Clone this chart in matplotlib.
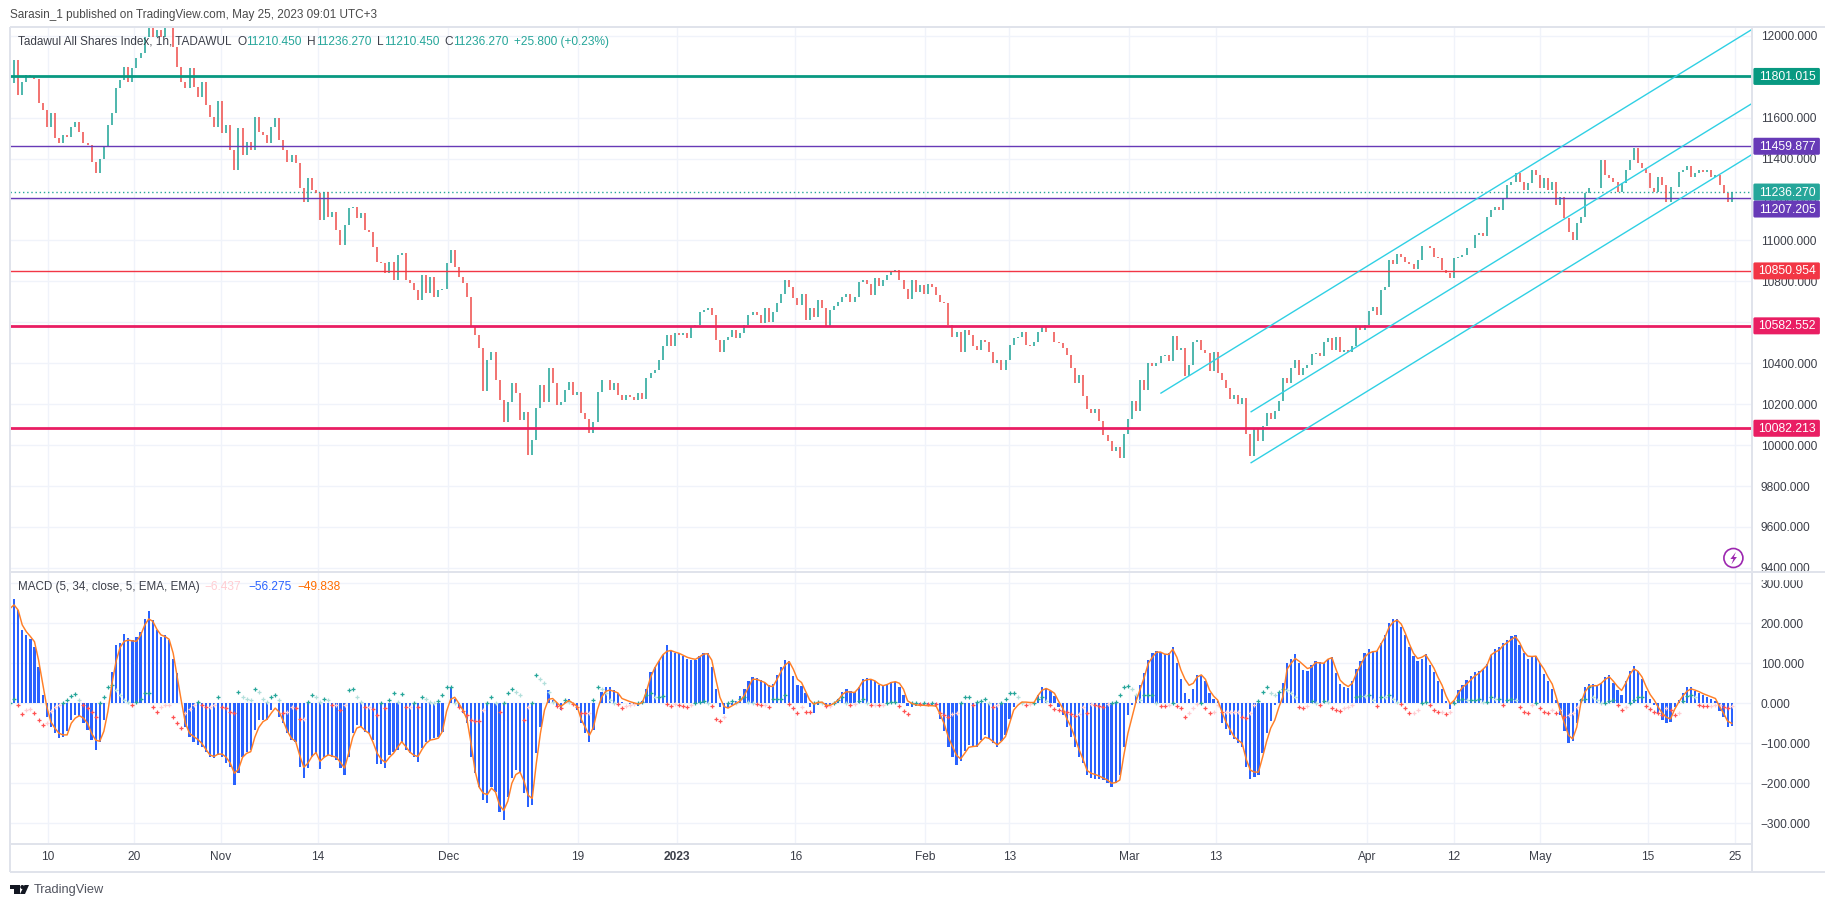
import matplotlib
matplotlib.use("Agg")
import matplotlib.pyplot as plt
from matplotlib.patches import Rectangle, FancyBboxPatch, Polygon, Circle

plt.rcParams["font.family"] = ["Liberation Sans", "DejaVu Sans"]

closes = [
11767,11880,11710,11775,11808,11796,11787,11670,11637,11555,
11620,11498,11474,11515,11507,11555,11580,11531,11474,11466,
11384,11327,11400,11458,11563,11620,11743,11783,11849,11775,
11840,11889,11914,11995,12036,11995,12028,11995,12036,12036,
11946,11849,11775,11743,11840,11751,11702,11775,11661,11604,
11555,11680,11523,11563,11441,11344,11547,11417,11482,11441,
11604,11531,11515,11474,11555,11596,11490,11441,11384,11417,
11376,11254,11189,11303,11246,11230,11099,11238,11116,11140,
11050,10977,11075,11156,11165,11107,11132,11050,11042,10969,
10896,10888,10839,10896,10806,10928,10936,10806,10790,10757,
10708,10831,10741,10822,10725,10758,10765,10888,10953,10872,
10823,10790,10725,10579,10538,10473,10266,10416,10457,10318,
10220,10115,10212,10302,10253,10123,10164,9952,10025,10180,
10294,10212,10375,10302,10196,10212,10269,10310,10245,10261,
10155,10126,10058,10115,10261,10318,10318,10269,10302,10245,
10220,10245,10237,10220,10253,10223,10328,10352,10368,10417,
10482,10538,10482,10546,10538,10546,10522,10579,10587,10652,
10660,10668,10635,10514,10457,10514,10530,10563,10522,10546,
10587,10635,10652,10635,10595,10668,10603,10652,10692,10740,
10805,10773,10721,10684,10740,10611,10668,10627,10708,10668,
10582,10660,10679,10700,10724,10740,10700,10724,10797,10805,
10789,10732,10818,10776,10805,10830,10846,10854,10805,10765,
10716,10805,10749,10781,10740,10789,10773,10732,10700,10692,
10587,10530,10554,10457,10563,10538,10482,10465,10514,10506,
10457,10401,10417,10368,10417,10490,10522,10530,10554,10490,
10482,10506,10554,10582,10554,10554,10506,10501,10473,10441,
10376,10304,10344,10239,10177,10158,10174,10118,10048,10021,
9972,9993,9935,10053,10126,10215,10166,10320,10271,10401,
10385,10401,10433,10441,10409,10533,10465,10473,10336,10393,
10506,10514,10465,10449,10360,10457,10352,10320,10279,10223,
10247,10199,10231,10053,9948,10077,10021,10093,10158,10126,
10166,10215,10328,10304,10377,10417,10344,10377,10393,10444,
10449,10433,10506,10522,10465,10527,10457,10465,10457,10482,
10576,10563,10587,10656,10676,10634,10760,10773,10902,10886,
10935,10918,10894,10886,10862,10902,10975,10975,10961,
10920,10912,10855,10839,10814,10912,10920,10928,10961,10961,
11026,11034,11023,11116,11148,11161,11148,11205,11270,11287,
11327,11287,11246,11279,11344,11319,11254,11303,11246,11287,
11173,11213,11107,11042,11002,11083,11116,11230,11254,11254,
11254,11393,11319,11303,11287,11238,11279,11344,11393,
11450,11376,11352,11327,11254,11238,11311,11270,11189,11262,
11262,11335,11344,11365,11311,11327,11344,11335,11344,11311,
11319,11270,11230,11189,11236]

macd = [
248,260,233,183,170,162,142,92,20,-33,
-58,-75,-87,-85,-70,-42,-29,-32,-50,-67,
-92,-117,-96,-42,0,79,146,150,173,163,
158,165,179,212,232,208,183,165,171,158,
112,75,0,-58,-83,-96,-104,-108,-121,-133,
-137,-129,-133,-150,-158,-205,-175,-133,-121,-117,
-67,-42,-42,-42,-17,0,-33,-50,-75,-92,
-96,-158,-187,-162,-133,-123,-165,-133,-129,-133,
-142,-162,-179,-133,-75,-54,-58,-71,-75,-92,
-152,-152,-162,-129,-121,-117,-96,-117,-125,-133,
-146,-112,-96,-92,-87,-83,-71,0,42,12,
-8,-25,-50,-133,-175,-208,-242,-250,-208,-221,
-271,-292,-233,-187,-167,-175,-225,-260,-254,-125,
-60,0,33,8,-8,-17,4,12,0,-17,
-50,-75,-96,-67,0,29,42,40,33,25,
4,2,-2,-5,-7,5,35,78,90,105,
121,146,130,127,125,118,110,108,108,118,
125,125,90,35,-8,-27,-12,-4,5,19,
35,55,65,64,58,50,47,48,70,90,
108,105,68,45,44,25,-8,-25,-4,2,
-10,-5,2,12,28,36,31,28,42,60,
64,62,56,47,44,48,54,54,40,20,
-6,-10,-7,-6,-4,-5,-7,-10,-38,-68,
-108,-135,-155,-145,-120,-105,-108,-108,-92,-80,
-88,-99,-108,-95,-80,-40,-8,0,4,2,
1,0,22,40,38,30,18,-8,-30,-60,
-85,-108,-135,-150,-178,-186,-188,-190,-192,-198,
-208,-198,-180,-110,-28,-5,20,45,75,108,
125,132,128,123,125,140,100,62,25,12,
35,72,68,56,25,10,6,-50,-65,-80,
-90,-100,-110,-160,-190,-185,-180,-125,-75,-45,
-5,28,52,100,112,123,100,83,82,95,
105,103,100,110,115,75,48,42,38,
55,85,105,125,137,130,130,150,172,200,
210,212,192,170,140,118,106,112,123,95,
78,55,35,5,-15,5,33,45,58,68,
78,82,87,98,121,135,140,150,158,168,
172,145,125,112,116,118,100,74,55,36,
8,-30,-70,-98,-95,-48,10,42,48,
48,44,52,65,70,50,34,20,55,80,
94,80,60,30,10,-5,-25,-42,-48,-46,
-10,8,25,40,42,30,25,22,17,12,
5,-20,-35,-60,-56]

signal = [
237,246,233,196,179,167,154,108,50,-8,
-46,-62,-75,-79,-79,-50,-37,-31,-37,-50,
-75,-92,-95,-70,-20,50,105,140,155,158,
156,155,170,195,211,205,185,171,167,160,
125,65,5,-50,-75,-83,-90,-100,-115,-129,
-133,-127,-127,-135,-150,-175,-165,-135,-125,-121,
-85,-60,-46,-40,-25,-12,-22,-45,-70,-88,
-95,-130,-160,-150,-133,-123,-145,-135,-129,-132,
-135,-148,-162,-125,-85,-62,-58,-68,-75,-98,
-125,-140,-148,-135,-125,-110,-96,-108,-122,-130,
-133,-115,-100,-92,-90,-87,-70,-20,10,15,
0,-17,-40,-100,-170,-210,-225,-228,-212,-222,
-255,-268,-245,-200,-178,-172,-195,-230,-238,-150,
-75,-17,10,12,2,-8,0,7,0,-8,
-40,-60,-80,-60,-15,15,30,33,30,26,
12,8,4,1,-2,2,30,65,88,105,
121,130,132,128,125,120,115,112,110,116,
123,124,108,60,15,-8,-12,-6,0,6,
20,40,60,60,56,52,43,42,60,80,
96,104,85,60,52,30,8,-2,2,3,
-5,-5,0,8,22,29,28,27,38,55,
59,60,56,48,44,47,52,54,50,35,
6,0,-4,-5,-5,-6,-6,-7,-28,-52,
-85,-108,-130,-139,-125,-110,-108,-107,-95,-85,
-88,-96,-104,-95,-83,-50,-17,-5,3,3,
2,2,20,33,37,32,25,5,-12,-38,
-58,-85,-115,-140,-168,-175,-178,-182,-187,-192,
-200,-198,-192,-130,-75,-35,5,35,65,100,
115,128,128,123,122,135,115,83,60,45,
50,66,71,60,33,18,8,-20,-46,-65,
-83,-92,-100,-140,-167,-172,-172,-135,-95,-62,
-42,-10,17,85,100,112,105,96,87,90,
102,101,100,110,114,85,58,48,42,
50,75,95,115,125,129,130,148,165,190,
203,208,198,175,148,125,112,115,121,105,
88,65,45,18,-2,8,25,40,48,58,
68,75,85,95,121,128,133,145,152,160,
166,152,130,118,117,118,100,85,65,48,
15,-20,-50,-80,-89,-60,0,28,42,
44,44,50,60,66,55,42,32,50,72,
86,80,66,42,22,8,-10,-25,-35,-39,
-15,3,18,30,36,33,29,24,20,16,
12,-8,-25,-45,-50]

hist = [
0,12,-3,-27,-17,-14,-25,-42,-54,-48,
-20,-10,-3,0,8,18,23,8,-4,-12,
-21,-33,2,17,42,46,33,21,8,4,
-4,4,12,25,27,-8,-21,-10,-4,-3,
-33,-50,-62,-25,-15,-4,4,-4,-8,-8,
-4,17,-8,-12,-21,-25,29,17,12,8,
37,29,12,4,17,21,8,-25,-21,-8,
-12,-38,-38,4,22,17,4,12,8,-4,
-4,-17,-4,33,35,17,4,-8,-8,-15,
-29,0,-12,8,25,4,23,-8,-8,0,
-8,17,12,4,2,7,21,40,42,0,
-8,-18,-29,-42,-43,-44,-17,2,17,0,
-21,0,27,37,29,21,-42,-8,2,71,
60,50,29,4,-6,-12,8,4,-2,-8,
-23,-25,-25,8,40,37,25,8,2,-2,
-12,-7,-5,-2,0,4,21,27,15,15,
19,-2,-7,-2,-5,-7,-8,-5,2,4,
7,0,-7,-40,-45,-33,0,7,2,10,
17,4,0,-2,-4,-3,-8,10,12,12,
21,-2,-12,-23,-10,-21,-22,0,4,0,
-7,-7,2,8,15,0,-4,-2,7,12,
0,-5,-4,-5,-5,0,4,4,-7,-18,
-27,0,2,-2,2,-2,2,-2,-23,-29,
-35,-27,-23,0,15,15,-4,4,7,12,
2,-8,-4,2,12,25,27,17,2,-4,
-2,2,10,17,7,-5,-15,-17,-18,-21,
-27,-32,-27,-8,-25,-2,-5,-7,-8,-2,
0,3,21,42,43,37,21,8,21,21,
21,0,-6,-7,-5,0,-7,-12,-35,-25,
-12,-2,0,-12,-25,-21,-4,-21,-21,-21,
-21,-21,-33,-37,-25,-4,7,29,42,25,
22,29,37,33,27,17,-8,-12,-7,7,
0,-4,7,4,-12,-17,-18,-12,-8,-4,
17,19,18,21,8,-7,17,15,21,10,
4,-2,-12,-25,-25,-17,0,4,-4,-17,
-21,-21,-27,-21,0,8,10,8,8,8,
12,4,4,17,11,12,-4,8,10,8,
-8,-21,-25,-4,2,-12,-21,-23,-17,-25,
-17,-33,-29,-25,-8,8,12,40,17,8,
0,0,7,8,-4,-17,-8,0,8,17,
17,-7,-15,-21,-25,-29,-12,-17,-29,-25,
6,18,21,17,-4,-6,-7,-6,-4,-4,
-8,-12,-6]

time_labels = ["10", "20", "Nov", "14", "Dec", "19", "2023", "16", "Feb", "13", "Mar", "13", "Apr", "12", "May", "15", "25"]
time_bars = [9.3, 30.5, 51.7, 75.5, 107.4, 139.2, 163.4, 192.5, 224.3, 244.9, 274.3, 295.5, 332.7, 353.8, 375.1, 401.5, 422.8]

price_ticks = [12000, 11800, 11600, 11400, 11200, 11000, 10800, 10600, 10400, 10200, 10000, 9800, 9600, 9400]
macd_ticks = [300, 200, 100, 0, -100, -200, -300]

level_values = [11801.015, 11459.877, 11207.205, 10850.954, 10582.552, 10082.213]
level_colors = ["#089981", "#673ab7", "#673ab7", "#f23645", "#e91e63", "#e91e63"]
level_widths = [2.0, 1.0, 1.0, 1.0, 2.0, 2.0]
last_close = 11236.270

channel_start_bar = [282.1, 304.2, 304.2]
channel_start_val = [10254, 10163, 9914]
channel_end_bar = [427.06, 427.06, 427.06]
channel_end_val = [12032, 11670, 11421]

UP = "#26a69a"
DOWN = "#ef5350"
GRID = "#f0f3fa"
FRAME = "#e0e3eb"
TEXT = "#3c3f49"
W, H = 1834, 907
AXIS_X = 1752.4


def box(left, top, right, bottom):
    return [left / W, 1 - bottom / H, (right - left) / W, (bottom - top) / H]


fig = plt.figure(figsize=(W / 100, H / 100), dpi=100, facecolor="white")
ax = fig.add_axes(box(10, 27, AXIS_X, 571.5))
ax2 = fig.add_axes(box(10, 571.5, AXIS_X, 844))
bars = list(range(len(closes)))

# candles, open is taken as the previous close
opens = [closes[0]] + closes[:-1]
cols = [UP if c >= o else DOWN for o, c in zip(opens, closes)]
ax.vlines(bars, opens, closes, colors=cols, linewidth=1.15, zorder=3)
ax.set_xlim(0, 427.06)
ax.set_ylim(9382.5, 12042.5)

for val, col, lw in zip(level_values, level_colors, level_widths):
    ax.axhline(val, color=col, linewidth=lw, zorder=4)
ax.axhline(last_close, color=UP, linewidth=1, linestyle=(0, (1, 2)), zorder=2)
for x0, y0, x1, y1 in zip(channel_start_bar, channel_start_val, channel_end_bar, channel_end_val):
    ax.plot([x0, x1], [y0, y1], color="#2fd0e4", linewidth=1.0, zorder=5)

# macd panel
ax2.bar(bars, macd, width=0.55, color="#2962ff", zorder=2)
ax2.plot(bars, signal, color="#ff7f27", linewidth=1.05, zorder=4)
for i in bars:
    prev = hist[i - 1] if i else hist[i]
    if hist[i] >= 0:
        c = "#26a69a" if hist[i] >= prev else "#b2dfdb"
    else:
        c = "#ff5252" if hist[i] < prev else "#ffcdd2"
    ax2.plot(bars[i], hist[i], marker="+", markersize=3.2, markeredgewidth=0.9, color=c, linestyle="none", zorder=3)
ax2.set_xlim(0, 427.06)
ax2.set_ylim(-351.75, 329.5)

for a, ticks in ((ax, price_ticks), (ax2, macd_ticks)):
    a.set_yticks(ticks)
    a.yaxis.tick_right()
    a.set_yticklabels([f"{t:.3f}".replace("-", "\u2212") for t in ticks])
    a.set_xticks(time_bars)
    a.grid(True, color=GRID, linewidth=1, zorder=0)
    a.set_axisbelow(True)
    a.tick_params(axis="y", length=0, pad=6, labelsize=8.6, labelcolor=TEXT)
    a.tick_params(axis="x", length=0)
    for s in a.spines.values():
        s.set_visible(False)
ax.set_xticklabels([])
ax2.set_xticklabels(time_labels)
ax2.tick_params(axis="x", pad=5, labelsize=8.6, labelcolor=TEXT)
ax2.get_xticklabels()[6].set_fontweight("bold")

# overlay in pixels for frame, labels, header and logo
ov = fig.add_axes([0, 0, 1, 1], facecolor="none")
ov.set_xlim(0, W)
ov.set_ylim(H, 0)
ov.axis("off")

ov.add_patch(Rectangle((AXIS_X + 1, 572), 72, 7, color="white", zorder=1))
for xs, ys in (([10, 1825], [27, 27]), ([10, 1825], [872, 872]), ([10, 10], [27, 872]),
               ([AXIS_X, AXIS_X], [27, 872]), ([10, 1825], [571.5, 571.5]), ([10, AXIS_X], [844, 844])):
    ov.plot(xs, ys, color=FRAME, linewidth=1.4, zorder=2, solid_capstyle="butt")


def price_px(v):
    return H - ax.transData.transform((0, v))[1]


labels = [("11801.015", "#089981", price_px(11801.015)),
          ("11459.877", "#673ab7", price_px(11459.877)),
          ("11236.270", "#26a69a", price_px(last_close)),
          ("11207.205", "#673ab7", price_px(last_close) + 17),
          ("10850.954", "#f23645", price_px(10850.954)),
          ("10582.552", "#e91e63", price_px(10582.552)),
          ("10082.213", "#e91e63", price_px(10082.213))]
for txt, col, y in labels:
    ov.add_patch(FancyBboxPatch((AXIS_X + 1, y - 8.5), 66.5, 17, boxstyle="round,pad=0,rounding_size=1.5",
                                facecolor=col, edgecolor="none", zorder=3))
    ov.text(1787, y + 0.5, txt, color="white", fontsize=8.8, ha="center", va="center", zorder=4)

ov.text(10, 15, "Sarasin_1 published on TradingView.com, May 25, 2023 09:01 UTC+3",
        color="#4a4a4a", fontsize=8.5, va="center")

ov.text(18.5, 42, "Tadawul All Shares Index, 1h, TADAWUL", color=TEXT, fontsize=8.5, va="center")
legend_parts = [("O", 237, TEXT), ("11210.450", 246, UP), ("H", 307.5, TEXT), ("11236.270", 316, UP),
                ("L", 377.5, TEXT), ("11210.450", 384, UP), ("C", 444.7, TEXT), ("11236.270", 453, UP),
                ("+25.800 (+0.23%)", 514, UP)]
for txt, x, col in legend_parts:
    ov.text(x, 42, txt, color=col, fontsize=8.6, va="center")

ov.text(18.5, 587, "MACD (5, 34, close, 5, EMA, EMA)", color=TEXT, fontsize=8.4, va="center")
ov.text(204.7, 587, "\u22126.437", color="#ffcdd2", fontsize=8.6, va="center")
ov.text(248, 587, "\u221256.275", color="#2962ff", fontsize=8.6, va="center")
ov.text(297, 587, "\u221249.838", color="#ff6d00", fontsize=8.6, va="center")

# tradingview logo
ov.add_patch(Rectangle((10, 885), 9.5, 4, color="#131722", linewidth=0))
ov.add_patch(Rectangle((14, 889), 5.5, 5, color="#131722", linewidth=0))
ov.add_patch(Circle((22.3, 887), 2, color="#131722", linewidth=0))
ov.add_patch(Polygon([(24.5, 885), (29, 885), (25, 894), (20, 894)], color="#131722", linewidth=0))
ov.text(33.5, 889.5, "TradingView", color="#50535e", fontsize=9.2, va="center")

# lightning badge
ov.add_patch(Circle((1733.4, 558), 9.5, facecolor="white", edgecolor="#9c27b0", linewidth=1.2, zorder=3))
ov.add_patch(Polygon([(1735.9, 552), (1730.4, 559), (1733.4, 559), (1731.4, 564.5), (1736.9, 557), (1733.9, 557)],
                     color="#9c27b0", linewidth=0, zorder=4))

plt.savefig("out.png", dpi=100)
